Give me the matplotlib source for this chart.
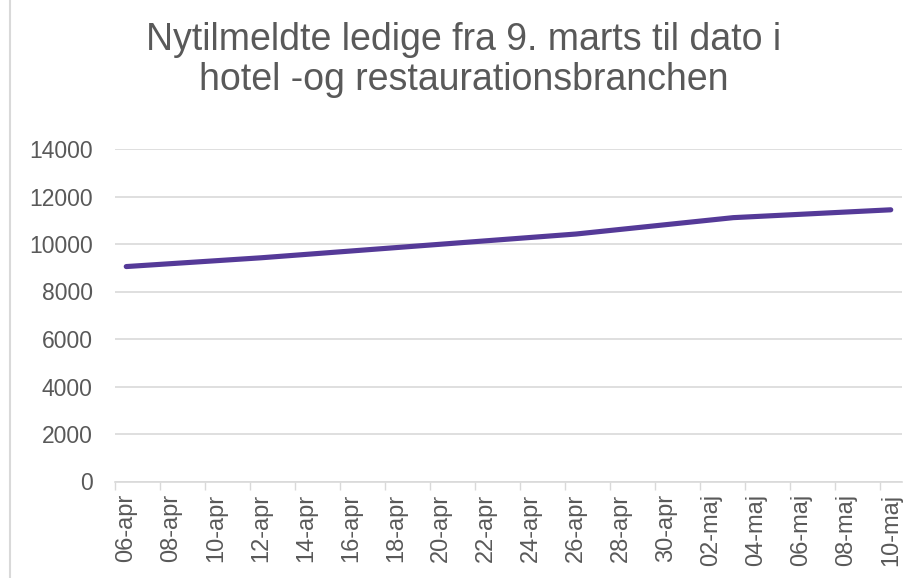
import matplotlib
matplotlib.use("Agg")
import matplotlib.pyplot as plt
from matplotlib.lines import Line2D
import pandas as pd
import numpy as np

plt.rcParams['font.family'] = ['Liberation Sans', 'DejaVu Sans']

title = "Nytilmeldte ledige fra 9. marts til dato i\nhotel -og restaurationsbranchen"
dates = ["2020-04-06", "2020-04-12", "2020-04-19", "2020-04-26", "2020-05-03", "2020-05-10"]
values = [9050, 9420, 9920, 10420, 11110, 11440]
start_date = "2020-04-06"
end_date = "2020-05-10"
month_names = {4: "apr", 5: "maj"}
yticks = [0, 2000, 4000, 6000, 8000, 10000, 12000, 14000]

text_color = "#595959"
grid_color = "#d9d9d9"
line_color = "#553A98"

d0 = pd.Timestamp(start_date)
x = [(pd.Timestamp(d) - d0).days for d in dates]
n_days = (pd.Timestamp(end_date) - d0).days

fig = plt.figure(figsize=(9.2, 5.78), dpi=100)
ax = fig.add_axes([115 / 920, 1 - 481.5 / 578, 787 / 920, (481.5 - 149) / 578])

ax.plot(x, values, color=line_color, linewidth=3.7, solid_capstyle="round", zorder=3)

ax.set_xlim(-0.5, n_days + 0.5)
ax.set_ylim(0, 14000)

label_pos = list(range(0, n_days + 1, 2))
labels = []
for p in label_pos:
    d = d0 + pd.Timedelta(days=p)
    labels.append(f"{d.day:02d}-{month_names[d.month]}")
ax.set_xticks(label_pos)
ax.set_xticklabels(labels, rotation=90, fontsize=17, color=text_color)
ax.tick_params(axis="x", which="major", length=0, pad=9)
ax.set_xticks([p - 0.5 for p in label_pos], minor=True)
ax.tick_params(axis="x", which="minor", length=6, width=1, color=grid_color)

ax.set_yticks(yticks)
ax.set_yticklabels([str(v) for v in yticks], fontsize=16.5, color=text_color)
ax.tick_params(axis="y", length=0, pad=16)
ax.yaxis.grid(True, color=grid_color, linewidth=1.2)
ax.set_axisbelow(True)

for s in ["top", "right", "left"]:
    ax.spines[s].set_visible(False)
ax.spines["bottom"].set_color(grid_color)
ax.spines["bottom"].set_linewidth(1.2)

fig.text(464 / 920, 1 - 60 / 578, title, ha="center", va="center",
         fontsize=27, color=text_color, linespacing=1.15)

fig.add_artist(Line2D([10.5 / 920, 10.5 / 920], [0, 1], color=grid_color,
                      linewidth=1.5, transform=fig.transFigure))

fig.savefig("out.png", dpi=100, facecolor="white")
